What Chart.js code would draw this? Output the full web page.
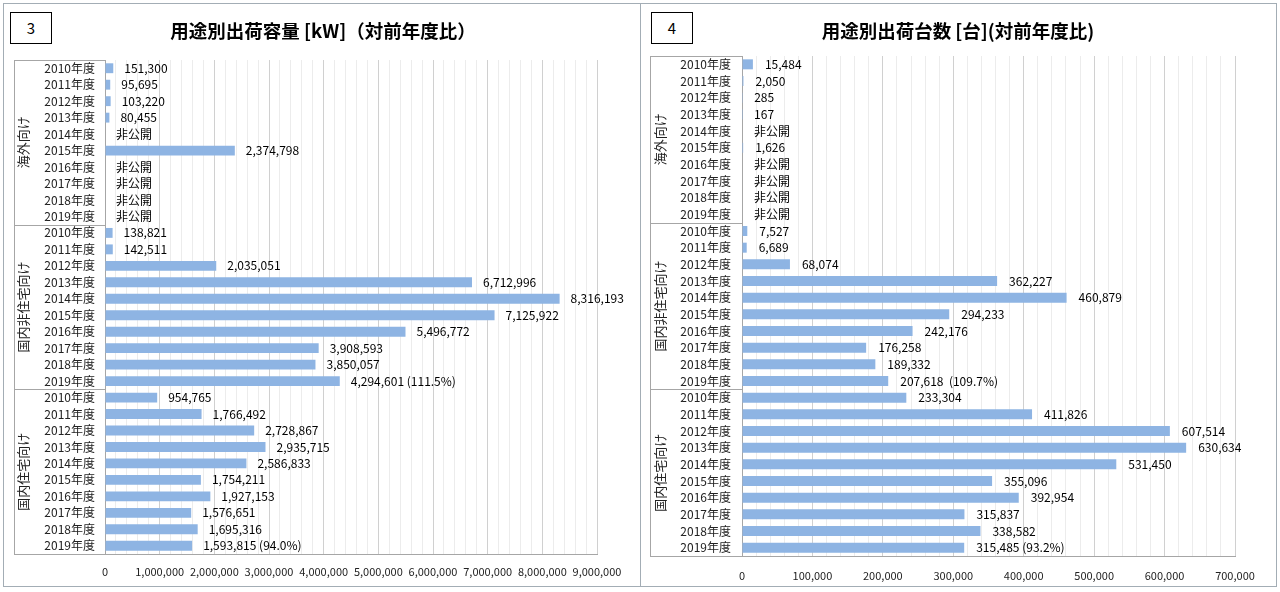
<!DOCTYPE html>
<html>
<head>
<meta charset="utf-8">
<script src="https://cdn.jsdelivr.net/npm/chart.js@4.4.0/dist/chart.umd.min.js"></script>
<style>
  body { margin: 0; width: 1280px; height: 592px; background: #fff; position: relative; overflow: hidden;
         font-family: "Noto Sans CJK JP", "Noto Sans", sans-serif; }
  .panel { position: absolute; top: 3px; height: 584px; border: 1px solid #a3adb5; box-sizing: border-box; }
  .num { position: absolute; top: 12px; width: 42px; height: 32px; border: 1px solid #000; box-sizing: border-box;
         font-size: 15px; line-height: 30px; text-align: center; background: #fff; z-index: 2; }
  .title { position: absolute; top: 16px; width: 640px; font-size: 18.5px; font-weight: bold; text-align: center;
           line-height: 28px; z-index: 2; }
  canvas { position: absolute; top: 0; }
</style>
</head>
<body>
<div class="panel" style="left:3px;width:638px;"></div>
<div class="panel" style="left:640px;width:637px;"></div>
<div class="num" style="left:10px;">3</div>
<div class="num" style="left:651px;">4</div>
<div class="title" style="left:3px;">用途別出荷容量 [kW]（対前年度比）</div>
<div class="title" style="left:638px;">用途別出荷台数 [台](対前年度比)</div>
<canvas id="kwChart" width="640" height="592" style="left:0;"></canvas>
<canvas id="unitChart" width="640" height="592" style="left:640px;"></canvas>
<script>
// Categories
const years = ['2010年度', '2011年度', '2012年度', '2013年度', '2014年度',
               '2015年度', '2016年度', '2017年度', '2018年度', '2019年度'];
const groups = ['海外向け', '国内非住宅向け', '国内住宅向け'];

// 出荷容量 [kW]  (null = 非公開)
const overseasKW = [151300, 95695, 103220, 80455, null, 2374798, null, null, null, null];
const nonResKW = [138821, 142511, 2035051, 6712996, 8316193, 7125922, 5496772, 3908593, 3850057, 4294601];
const resKW = [954765, 1766492, 2728867, 2935715, 2586833, 1754211, 1927153, 1576651, 1695316, 1593815];
const kwNotes = { 19: ' (111.5%)', 29: ' (94.0%)' };

// 出荷台数 [台]
const overseasUnits = [15484, 2050, 285, 167, null, 1626, null, null, null, null];
const nonResUnits = [7527, 6689, 68074, 362227, 460879, 294233, 242176, 176258, 189332, 207618];
const resUnits = [233304, 411826, 607514, 630634, 531450, 355096, 392954, 315837, 338582, 315485];
const unitNotes = { 19: '  (109.7%)', 29: ' (93.2%)' };

const FONT = '"Noto Sans CJK JP", "Noto Sans", sans-serif';
const labels = [...years, ...years, ...years];

// value labels, group labels and the multi-level category lines
const annotate = {
  id: 'annotate',
  afterDatasetsDraw(chart, args, opts) {
    const ctx = chart.ctx;
    const xs = chart.scales.x, ys = chart.scales.y;
    const values = chart.data.datasets[0].data;
    ctx.save();
    ctx.font = '12px ' + FONT;
    ctx.fillStyle = '#000';
    ctx.textBaseline = 'middle';
    values.forEach((v, i) => {
      const py = ys.getPixelForValue(i);
      let text, px;
      if (v === null) {
        text = '非公開';
        px = xs.getPixelForValue(0);
      } else {
        text = v.toLocaleString('en-US') + (opts.notes[i] || '');
        px = xs.getPixelForValue(v);
      }
      ctx.fillText(text, px + opts.gap, py);
    });

    const band = ys.getPixelForValue(1) - ys.getPixelForValue(0);
    ctx.strokeStyle = '#a6a6a6';
    ctx.lineWidth = 1;
    ctx.beginPath();
    for (let g = 0; g <= groups.length; g++) {
      const yb = Math.round(ys.getPixelForValue(g * 10) - band / 2) + 0.5;
      ctx.moveTo(opts.lineX, yb);
      ctx.lineTo(g === groups.length ? xs.right : xs.left, yb);
    }
    ctx.moveTo(opts.lineX + 0.5, Math.round(ys.getPixelForValue(0) - band / 2));
    ctx.lineTo(opts.lineX + 0.5, Math.round(ys.getPixelForValue(labels.length - 1) + band / 2));
    ctx.stroke();

    ctx.font = '13px ' + FONT;
    ctx.fillStyle = '#222';
    ctx.textAlign = 'center';
    groups.forEach((name, g) => {
      const cy = (ys.getPixelForValue(g * 10) + ys.getPixelForValue(g * 10 + 9)) / 2;
      ctx.save();
      ctx.translate(opts.groupX, cy);
      ctx.rotate(-Math.PI / 2);
      ctx.fillText(name, 0, 0);
      ctx.restore();
    });
    ctx.restore();
  }
};

function makeChart(id, values, cfg) {
  return new Chart(document.getElementById(id), {
    type: 'bar',
    data: {
      labels: labels,
      datasets: [{
        data: values,
        backgroundColor: '#8eb4e3',
        barPercentage: 0.6,
        categoryPercentage: 1.0
      }]
    },
    options: {
      indexAxis: 'y',
      responsive: false,
      animation: false,
      layout: { padding: cfg.padding },
      plugins: {
        legend: { display: false },
        tooltip: { enabled: false },
        annotate: { notes: cfg.notes, gap: cfg.gap, lineX: cfg.lineX, groupX: cfg.groupX }
      },
      scales: {
        x: {
          min: 0,
          max: cfg.max,
          afterFit(scale) { scale.height = 30; },
          ticks: {
            stepSize: cfg.minor,
            autoSkip: false,
            maxRotation: 0,
            padding: cfg.tickPad,
            color: '#222',
            font: { size: 11, family: FONT },
            callback: v => (v % cfg.major === 0 ? v.toLocaleString('en-US') : '')
          },
          grid: {
            drawTicks: false,
            color: c => (c.tick && c.tick.value % cfg.major === 0 ? '#d0d0d0' : '#ececec')
          },
          border: { color: '#a6a6a6' }
        },
        y: {
          afterFit(scale) { scale.width = cfg.yWidth; },
          ticks: {
            autoSkip: false,
            padding: cfg.yPad,
            color: '#222',
            font: { size: 12, family: FONT }
          },
          grid: { display: false, drawTicks: false },
          border: { color: '#a6a6a6' }
        }
      }
    },
    plugins: [annotate]
  });
}

makeChart('kwChart', [...overseasKW, ...nonResKW, ...resKW], {
  max: 9000000, major: 1000000, minor: 200000,
  padding: { top: 60, right: 43, bottom: 8, left: 0 },
  yWidth: 105, yPad: 10, tickPad: 11,
  notes: kwNotes, gap: 11, lineX: 14, groupX: 23
});

makeChart('unitChart', [...overseasUnits, ...nonResUnits, ...resUnits], {
  max: 700000, major: 100000, minor: 20000,
  padding: { top: 56, right: 45, bottom: 6, left: 0 },
  yWidth: 102, yPad: 11, tickPad: 13,
  notes: unitNotes, gap: 12, lineX: 10, groupX: 20
});
</script>
</body>
</html>
